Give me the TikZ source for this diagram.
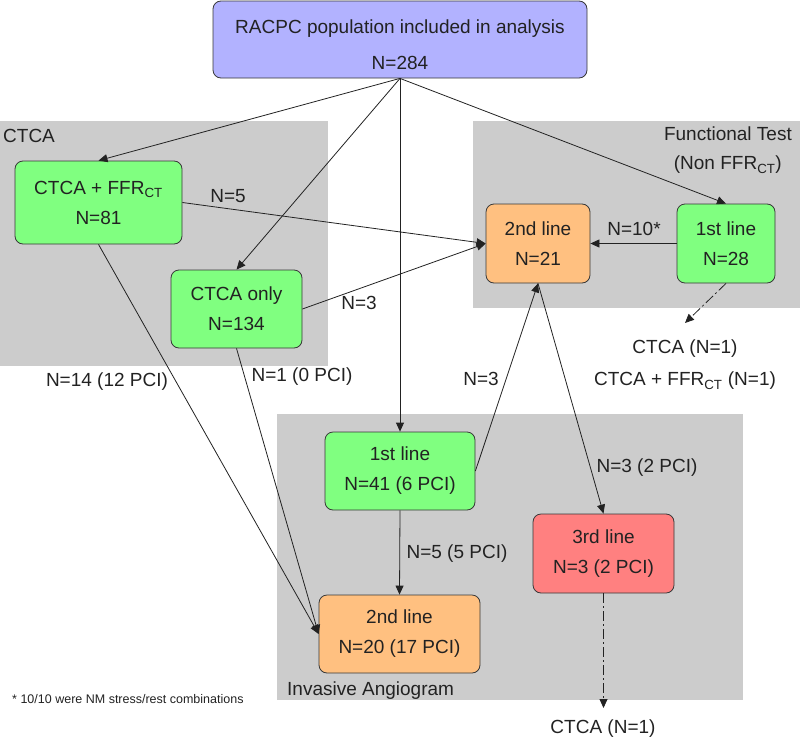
\documentclass[tikz,border=0pt]{standalone}
\usepackage{fontspec}
\setmainfont{Liberation Sans}
\usetikzlibrary{arrows.meta}

\definecolor{popblue}{HTML}{B2B2FF}
\definecolor{testgreen}{HTML}{80FF80}
\definecolor{testorange}{HTML}{FFC080}
\definecolor{testred}{HTML}{FF8080}
\definecolor{regiongray}{HTML}{CCCCCC}
\definecolor{ink}{HTML}{222222}

\tikzset{
    testbox/.style={draw=ink!90, line width=0.8pt, rounded corners=8pt, align=center, text=ink,
        font=\fontsize{19}{30}\selectfont, inner sep=0pt},
    lbl/.style={text=ink, font=\fontsize{19}{29}\selectfont, inner sep=0pt},
    flow/.style={->, line width=0.8pt, draw=ink},
    hint/.style={->, line width=0.8pt, draw=ink, dash pattern=on 10pt off 3pt on 2pt off 3pt}
}

\begin{document}
\begin{tikzpicture}[x=1pt, y=-1pt, >={Triangle[length=9pt,width=8pt]}]
    \useasboundingbox (0,0) rectangle (800,744);

    % regions
    \fill[regiongray] (0,121) rectangle (328,366);
    \fill[regiongray] (473,121) rectangle (800,308);
    \fill[regiongray] (277,414) rectangle (743,700);
    \node[lbl, anchor=west] (ctcaregion) at (3,136) {CTCA};
    \node[lbl, anchor=east] (ftregion) at (792,134) {Functional Test};
    \node[lbl, anchor=east] (ftregionsub) at (782,165) {(Non FFR\textsubscript{CT})};
    \node[lbl, anchor=west] (iaregion) at (287,691) {Invasive Angiogram};

    % boxes
    \node[testbox, fill=popblue, minimum width=374pt, minimum height=77pt, font=\fontsize{19}{36}\selectfont] (pop) at (400,39.5) {\rule{0pt}{25pt}RACPC population included in analysis\\N=284};
    \node[testbox, fill=testgreen, minimum width=167pt, minimum height=83pt] (ctffr) at (98.5,202.5) {CTCA + FFR\textsubscript{CT}\\N=81};
    \node[testbox, fill=testgreen, minimum width=131pt, minimum height=78pt] (ctonly) at (236.5,309) {CTCA only\\N=134};
    \node[testbox, fill=testorange, minimum width=104pt, minimum height=79pt] (ftsecond) at (538,243.5) {2nd line\\N=21};
    \node[testbox, fill=testgreen, minimum width=98pt, minimum height=79pt] (ftfirst) at (726,243.5) {1st line\\N=28};
    \node[testbox, fill=testgreen, minimum width=150pt, minimum height=78pt] (iafirst) at (400,471) {1st line\\N=41 (6 PCI)};
    \node[testbox, fill=testorange, minimum width=161pt, minimum height=78pt] (iasecond) at (399.5,634) {2nd line\\N=20 (17 PCI)};
    \node[testbox, fill=testred, minimum width=141pt, minimum height=79pt] (iathird) at (603.5,553.5) {3rd line\\N=3 (2 PCI)};

    % outcomes outside
    \node[lbl] (ftctca) at (685,349) {CTCA (N=1)};
    \node[lbl] (ftffr) at (685,381) {CTCA + FFR\textsubscript{CT} (N=1)};
    \node[lbl] (iactca) at (603,729) {CTCA (N=1)};
    \node[text=ink, font=\fontsize{12.5}{14}\selectfont, inner sep=0pt, anchor=west] (footnote) at (12,699) {* 10/10 were NM stress/rest combinations};
    \coordinate (ftout) at (685,323);
    \coordinate (iaout) at (603.5,708);

    % connectors
    \draw[flow] (pop.south) -- (ctffr.north);
    \draw[flow] (pop.south) -- (ctonly.north);
    \draw[flow] (pop.south) -- (iafirst.north);
    \draw[flow] (pop.south) -- (ftfirst.north);
    \draw[flow] (ctffr.east) -- (ftsecond.west);
    \draw[flow] (ctonly.east) -- (ftsecond.west);
    \draw[flow] (ftfirst.west) -- (ftsecond.east);
    \draw[flow] (iafirst.east) -- (ftsecond.south);
    \draw[flow] (ftsecond.south) -- (iathird.north);
    \draw[flow] (iafirst.south) -- (iasecond.north);
    \draw[flow] (ctffr.south) -- (iasecond.west);
    \draw[flow] (ctonly.south) -- (iasecond.west);
    \draw[hint] (ftfirst.south) -- (ftout);
    \draw[hint] (iathird.south) -- (iaout);

    % counts
    \node[lbl] (nfive) at (228,196) {N=5};
    \node[lbl] (nthreea) at (359,303) {N=3};
    \node[lbl] (nten) at (634,229) {N=10*};
    \node[lbl] (nthreeb) at (481,379) {N=3};
    \node[lbl] (nthreepci) at (647,468) {N=3 (2 PCI)};
    \node[lbl] (nfivepci) at (457,554) {N=5 (5 PCI)};
    \node[lbl] (nfourteen) at (107,382) {N=14 (12 PCI)};
    \node[lbl] (none) at (302,377) {N=1 (0 PCI)};
\end{tikzpicture}
\end{document}
